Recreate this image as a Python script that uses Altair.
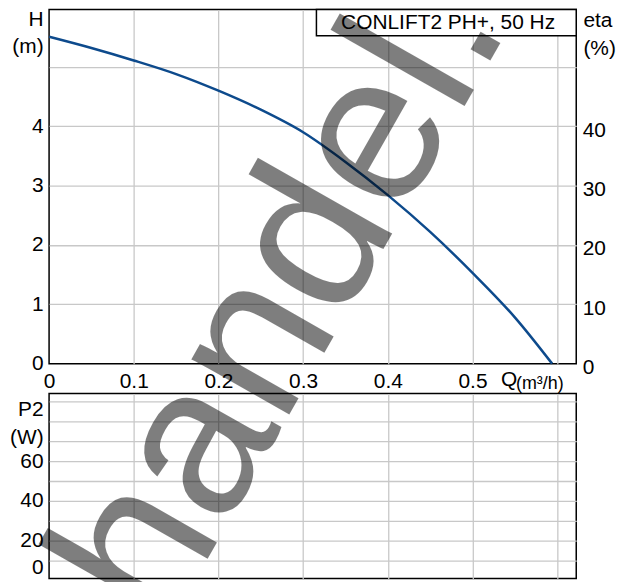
import altair as alt
import pandas as pd

# ---------------- data ----------------
flow_q = [0.0, 0.05, 0.1, 0.15, 0.2, 0.25, 0.3, 0.35, 0.4, 0.45, 0.5, 0.55, 0.594]
head_h = [5.51, 5.32, 5.11, 4.88, 4.60, 4.28, 3.90, 3.40, 2.84, 2.22, 1.53, 0.78, 0.0]

q_ticks = [0.0, 0.1, 0.2, 0.3, 0.4, 0.5, 0.6]
h_ticks = [0.0, 0.5, 1.0, 1.5, 2.0, 2.5, 3.0, 3.5, 4.0, 4.5, 5.0, 5.5]
eta_ticks = [0, 10, 20, 30, 40]
p2_ticks = [6.3, 10, 20, 30, 40, 50, 60, 70, 80, 90]

title_text = ["CONLIFT2 PH+, 50 Hz"]
title_q = [0.4712]
title_h = [5.635]
box_q = [0.3157]
box_q2 = [0.6225]
box_h = [5.525]
box_h2 = [5.968]

q_label_text = ["Q"]
q_label_q = [0.5337]
q_label_h = [-0.384]
unit_label_text = ["(m³/h)"]
unit_label_q = [0.5513]
unit_label_h = [-0.42]

wm_text = ["handel."]
wm_q = [0.3407]
wm_p2 = [126.1]

Q_DOMAIN = [0, 0.6225]
H_DOMAIN = [0, 5.968]
ETA_DOMAIN = [0, 59.68]
P2_DOMAIN = [1, 94]
FONT = "Liberation Sans"
BLUE = "#0d4a8c"

xs = alt.Scale(domain=Q_DOMAIN, nice=False, zero=False)
ys = alt.Scale(domain=H_DOMAIN, nice=False, zero=False)


def hide_at(test):
    return {"condition": {"test": test, "value": 0}, "value": 1}


x_axis_top = alt.Axis(
    values=q_ticks, title=None, ticks=False, domain=False, labelPadding=7,
    labelFlush=False,
    labelExpr="datum.value > 0.55 ? '' : (datum.value == 0 ? '0' : format(datum.value, '.1f'))",
    gridOpacity=hide_at("datum.value == 0"),
)
y_axis_h = alt.Axis(
    values=h_ticks, title=["H", "(m)"], titleAngle=0, titleAlign="right",
    titleBaseline="alphabetic", titleX=-6, titleY=16, titleLineHeight=27,
    ticks=False, domain=False, labelPadding=6,
    labelExpr="(datum.value % 1 == 0 && datum.value <= 4) ? '' + datum.value : ''",
    gridOpacity=hide_at("datum.value == 0"),
)

curve_df = pd.DataFrame({"q": flow_q, "h": head_h})
curve = alt.Chart(curve_df).mark_line(color=BLUE, strokeWidth=2.5, interpolate="monotone").encode(
    x=alt.X("q:Q", scale=xs, axis=x_axis_top),
    y=alt.Y("h:Q", scale=ys, axis=y_axis_h),
)

box_df = pd.DataFrame({"q": box_q, "q2": box_q2, "h": box_h, "h2": box_h2})
box = alt.Chart(box_df).mark_rect(fill="white", stroke="black", strokeWidth=1.5).encode(
    x=alt.X("q:Q", scale=xs), x2="q2", y=alt.Y("h:Q", scale=ys), y2="h2"
)

title_df = pd.DataFrame({"q": title_q, "h": title_h, "t": title_text})
title = alt.Chart(title_df).mark_text(font=FONT, fontSize=21, color="black", align="center",
                                      baseline="alphabetic").encode(
    x=alt.X("q:Q", scale=xs), y=alt.Y("h:Q", scale=ys), text="t:N"
)

ql_df = pd.DataFrame({"q": q_label_q, "h": q_label_h, "t": q_label_text})
q_label = alt.Chart(ql_df).mark_text(font=FONT, fontSize=21, color="black", align="left",
                                     baseline="alphabetic").encode(
    x=alt.X("q:Q", scale=xs), y=alt.Y("h:Q", scale=ys), text="t:N"
)
ul_df = pd.DataFrame({"q": unit_label_q, "h": unit_label_h, "t": unit_label_text})
unit_label = alt.Chart(ul_df).mark_text(font=FONT, fontSize=18, color="black", align="left",
                                        baseline="alphabetic").encode(
    x=alt.X("q:Q", scale=xs), y=alt.Y("h:Q", scale=ys), text="t:N"
)

eta_df = pd.DataFrame({"eta": eta_ticks})
eta_layer = alt.Chart(eta_df).mark_point(opacity=0).encode(
    y=alt.Y("eta:Q", scale=alt.Scale(domain=ETA_DOMAIN, nice=False, zero=False),
            axis=alt.Axis(orient="right", values=eta_ticks, title=["eta", "(%)"], titleAngle=0,
                          titleAlign="left", titleBaseline="alphabetic", titleX=6.7, titleY=17,
                          titleLineHeight=28, grid=False, ticks=False, domain=False,
                          labelPadding=6, labelOffset=4, format="d"))
)

top = alt.layer(
    alt.layer(curve, box, title, q_label, unit_label),
    eta_layer,
).resolve_scale(y="independent").properties(width=530, height=356)

# bottom panel (P2) with the watermark drawn on top of everything
wm_df = pd.DataFrame({"q": wm_q, "p2": wm_p2, "t": wm_text})
bottom = alt.Chart(wm_df).mark_text(
    font=FONT, fontSize=214, angle=299.6, color="black", opacity=0.5,
    align="center", baseline="alphabetic",
).encode(
    x=alt.X("q:Q", scale=xs,
            axis=alt.Axis(values=q_ticks, labels=False, ticks=False, domain=False, title=None,
                          gridOpacity=hide_at("datum.value == 0"))),
    y=alt.Y("p2:Q", scale=alt.Scale(domain=P2_DOMAIN, nice=False, zero=False),
            axis=alt.Axis(values=p2_ticks, title=["P2", "(W)"], titleAngle=0, titleAlign="right",
                          titleBaseline="alphabetic", titleX=-6, titleY=21.7, titleLineHeight=29,
                          ticks=False, domain=False, labelPadding=6,
                          labelExpr="datum.value < 8 ? '0' : ((datum.value % 20 == 0 && datum.value <= 60) ? '' + datum.value : '')",
                          gridOpacity=hide_at("datum.value < 8"))),
    text="t:N",
).properties(width=530, height=186)

chart = alt.vconcat(top, bottom, spacing=30, bounds="flush").properties(
    autosize=alt.AutoSizeParams(type="none"),
    padding={"left": 41.3, "top": 0, "right": 45, "bottom": 574},
    background="white",
).configure_view(
    stroke="black", strokeWidth=1.5
).configure_axis(
    gridColor="#c8c8c8", gridWidth=1.3,
    labelFont=FONT, labelFontSize=21, labelColor="black",
    titleFont=FONT, titleFontSize=21, titleFontWeight="normal", titleColor="black",
)

chart.save("out.html", embed_options={"renderer": "svg", "actions": False})
